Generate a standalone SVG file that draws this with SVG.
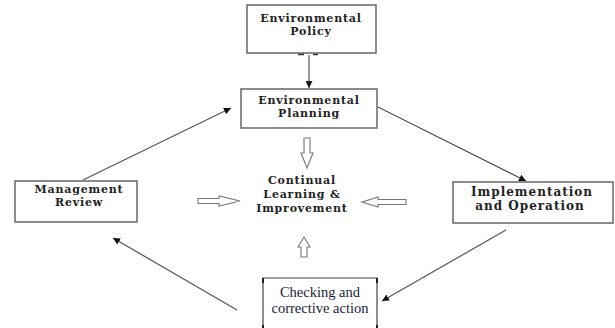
<svg xmlns="http://www.w3.org/2000/svg" width="615" height="328" viewBox="0 0 615 328">
<defs>
<marker id="ah" viewBox="0 0 10 10" refX="10" refY="5" markerWidth="7" markerHeight="7" orient="auto" markerUnits="userSpaceOnUse">
<path d="M0,0 L10,5 L0,10 z" fill="#111"/>
</marker>
<style>
.box{fill:#fff;stroke:#666;stroke-width:1.5}
.t{font-family:"DejaVu Serif","Liberation Serif",serif;font-weight:bold;font-size:11px;letter-spacing:0.8px;fill:#222;text-anchor:middle}
.big{font-size:12px;letter-spacing:1px}
.c{font-family:"Liberation Serif","Times New Roman",serif;font-size:14.5px;fill:#1c1c3c;text-anchor:middle}
.con{stroke:#555;stroke-width:1.2;fill:none;marker-end:url(#ah)}
.hol{fill:#fff;stroke:#777;stroke-width:1.1}
</style>
</defs>
<rect width="615" height="328" fill="#fff"/>
<g id="policy">
<rect class="box" x="247" y="5" width="129" height="48"/>
<text class="t" x="311" y="22">Environmental</text>
<text class="t" x="311" y="35">Policy</text>
<path d="M298,54.5h6M313,54.5h5" stroke="#333" stroke-width="1.5"/>
</g>
<g id="planning">
<rect class="box" x="241" y="89" width="136" height="39"/>
<text class="t" x="309" y="104">Environmental</text>
<text class="t" x="309" y="117">Planning</text>
</g>
<g id="management">
<rect class="box" x="15" y="181" width="122" height="41"/>
<text class="t" x="79" y="193">Management</text>
<text class="t" x="79" y="206">Review</text>
</g>
<g id="implementation">
<rect class="box" x="453" y="182" width="160" height="41"/>
<text class="t big" x="532" y="196">Implementation</text>
<text class="t big" x="530" y="210">and Operation</text>
</g>
<g id="checking">
<path d="M263,328V278H377V328" fill="#fff" stroke="#444" stroke-width="1.2"/>
<path d="M263,278v5M377,278v5M263,325v3M377,325v3" stroke="#222" stroke-width="2"/>
<text class="c" x="320" y="297">Checking and</text>
<text class="c" x="320" y="313">corrective action</text>
</g>
<g id="center">
<text class="t" x="302" y="184">Continual</text>
<text class="t" x="302" y="198">Learning &amp;</text>
<text class="t" x="302" y="212">Improvement</text>
</g>
<g id="connectors">
<line class="con" x1="309" y1="55" x2="309" y2="88"/>
<line class="con" x1="83" y1="180" x2="231" y2="108"/>
<line class="con" x1="378" y1="107" x2="526" y2="181"/>
<line class="con" x1="506" y1="230" x2="382" y2="301"/>
<line class="con" x1="237" y1="310" x2="113" y2="238"/>
<polygon class="hol" points="304,138 310,138 310,153 313,153 307,168 301,153 304,153"/>
<polygon class="hol" points="198,198.5 219,198.5 219,196 240,201 219,206 219,203.5 198,203.5"/>
<polygon class="hol" points="406,199.5 378,199.5 378,197 362,202 378,207 378,204.5 406,204.5"/>
<polygon class="hol" points="301,257 307,257 307,247 310,247 304,237 298,247 301,247"/>
</g>
</svg>
